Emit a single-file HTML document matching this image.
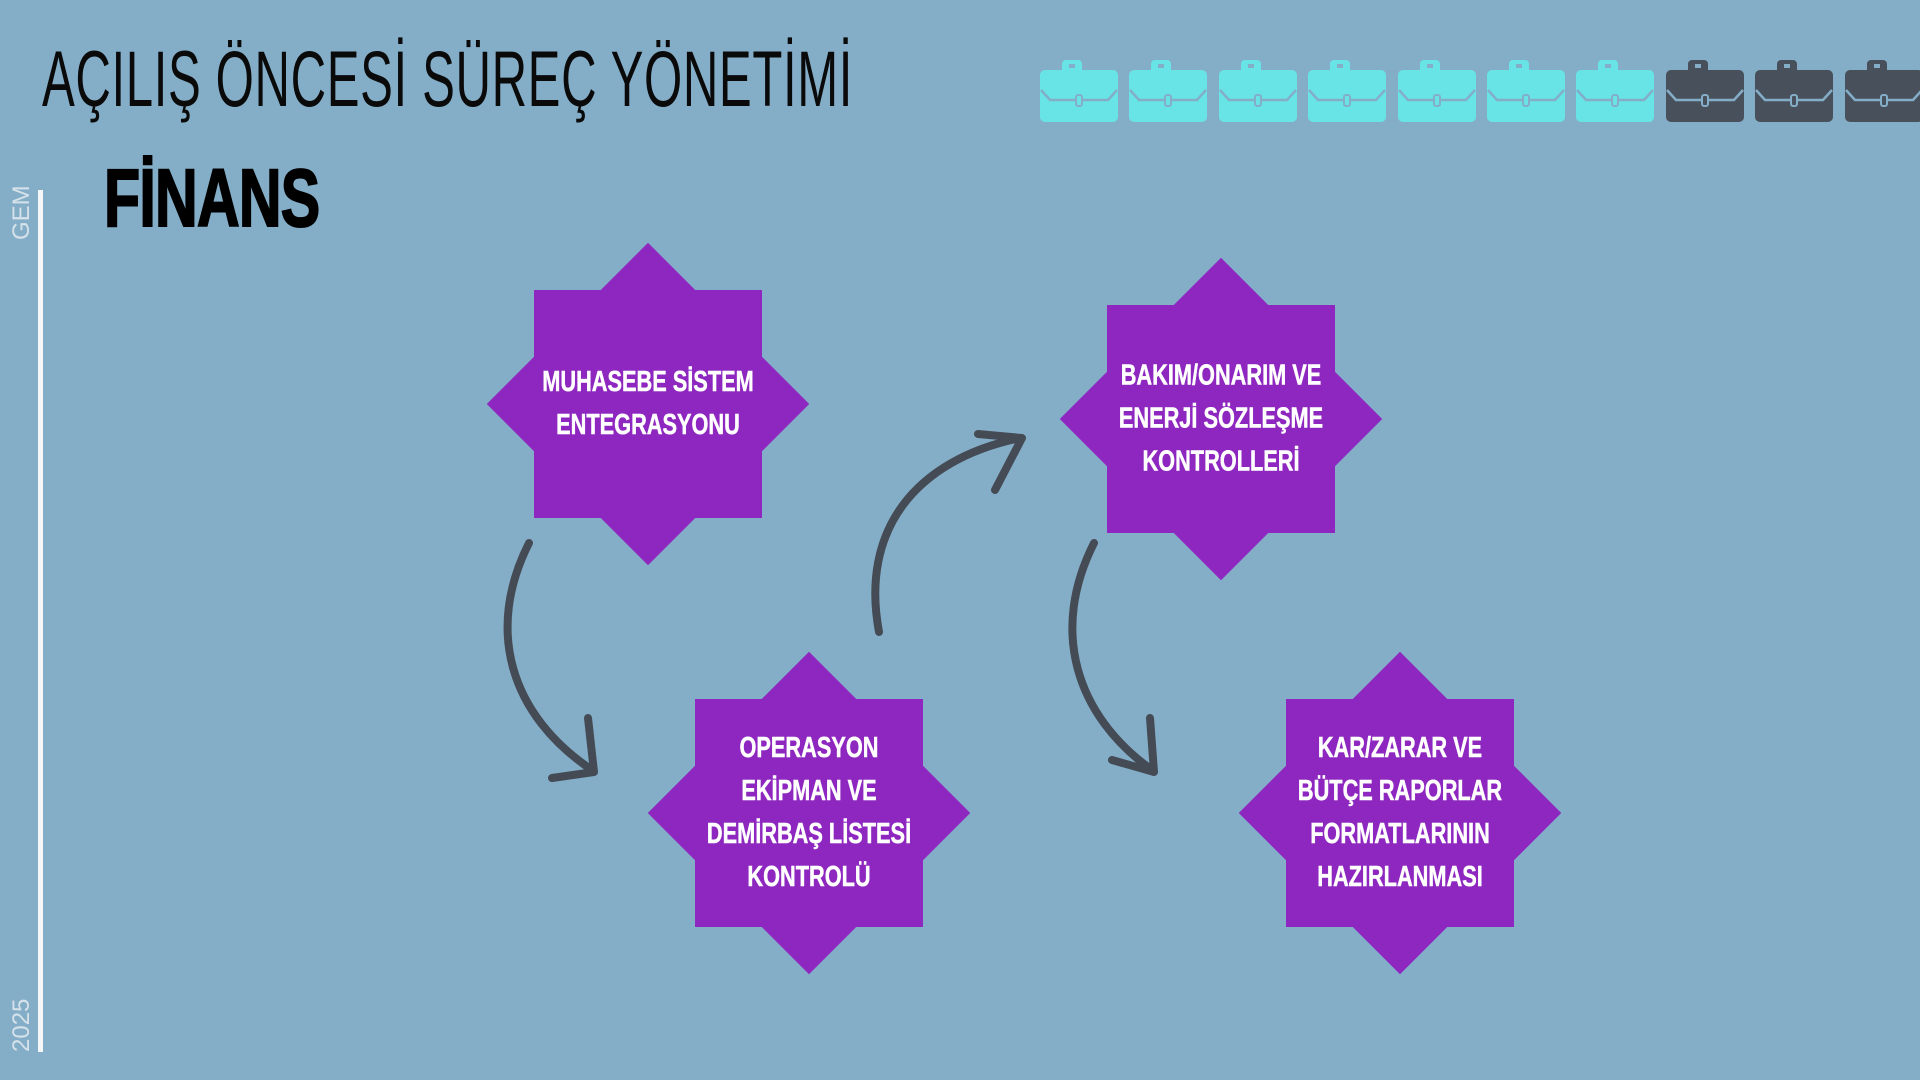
<!DOCTYPE html>
<html><head><meta charset="utf-8"><style>
html,body{margin:0;padding:0}
body{width:1920px;height:1080px;background:#84aec8;position:relative;overflow:hidden;font-family:"Liberation Sans",sans-serif}
.t{position:absolute;left:42px;top:33px;font-size:79px;color:#0a0a0a;transform:scaleX(0.622);transform-origin:0 0;white-space:nowrap;letter-spacing:1px}
.f{position:absolute;left:104px;top:152px;font-size:82px;font-weight:bold;color:#000;transform:scaleX(0.72);transform-origin:0 0;letter-spacing:-1px;-webkit-text-stroke:2px #000}
.vl{position:absolute;left:38px;top:190px;width:5px;height:862px;background:#f4f6f8}
.vt{position:absolute;color:#d6e2ea;font-size:24px;transform:rotate(-90deg);transform-origin:0 0;white-space:nowrap}
.star{position:absolute;width:228px;height:228px}
.star:before,.star:after{content:"";position:absolute;left:0;top:0;width:228px;height:228px;background:#8e27bf}
.star:after{transform:rotate(45deg)}
.lbl{position:absolute;width:300px;text-align:center;color:#fff;font-weight:bold;font-size:29px;line-height:43px;transform:translate(-50%,-50%) scaleX(0.75);-webkit-text-stroke:0.5px #fff}
</style></head><body>
<div class="t">AÇILIŞ ÖNCESİ SÜREÇ YÖNETİMİ</div>
<div class="f">FİNANS</div>
<div class="vl"></div>
<div class="vt" style="left:8px;top:240px">GEM</div>
<div class="vt" style="left:8px;top:1052px">2025</div>

<svg width="1920" height="140" style="position:absolute;left:0;top:0">
<defs>
<g id="bc">
<rect x="22" y="2" width="20" height="14" rx="4" fill="currentColor"/>
<rect x="29" y="6" width="6" height="4" fill="#84aec8"/>
<rect x="0" y="12" width="78" height="52" rx="5" fill="currentColor"/>
<polyline points="1,32 10,42 68,42 77,32" fill="none" stroke="#84aec8" stroke-width="2.5"/>
<rect x="36" y="37" width="6" height="11" rx="2" fill="currentColor" stroke="#84aec8" stroke-width="2"/>
</g></defs>
<g style="color:#68e4e6">
<use href="#bc" x="1040" y="58"/><use href="#bc" x="1129" y="58"/><use href="#bc" x="1219" y="58"/><use href="#bc" x="1308" y="58"/><use href="#bc" x="1398" y="58"/><use href="#bc" x="1487" y="58"/><use href="#bc" x="1576" y="58"/>
</g>
<g style="color:#48505b">
<use href="#bc" x="1666" y="58"/><use href="#bc" x="1755" y="58"/><use href="#bc" x="1845" y="58"/>
</g>
</svg>

<div class="star" style="left:534px;top:290px"></div>
<div class="star" style="left:1107px;top:305px"></div>
<div class="star" style="left:695px;top:699px"></div>
<div class="star" style="left:1286px;top:699px"></div>
<div class="lbl" style="left:648px;top:404px">MUHASEBE SİSTEM<br>ENTEGRASYONU</div>
<div class="lbl" style="left:1221px;top:419px">BAKIM/ONARIM VE<br>ENERJİ SÖZLEŞME<br>KONTROLLERİ</div>
<div class="lbl" style="left:809px;top:813px">OPERASYON<br>EKİPMAN VE<br>DEMİRBAŞ LİSTESİ<br>KONTROLÜ</div>
<div class="lbl" style="left:1400px;top:813px">KAR/ZARAR VE<br>BÜTÇE RAPORLAR<br>FORMATLARININ<br>HAZIRLANMASI</div>

<svg width="1920" height="1080" style="position:absolute;left:0;top:0">
<g fill="none" stroke="#454b54" stroke-width="8" stroke-linecap="round" stroke-linejoin="round">
<path d="M529,543 C485,630 510,715 592,770"/>
<path d="M552,778 L594,772 L588,718"/>
<path d="M879,632 C860,530 915,460 1020,438"/>
<path d="M995,490 L1022,438 L978,434"/>
<path d="M1094,543 C1050,630 1075,715 1152,770"/>
<path d="M1112,760 L1154,772 L1150,718"/>
</g>
</svg>
</body></html>
